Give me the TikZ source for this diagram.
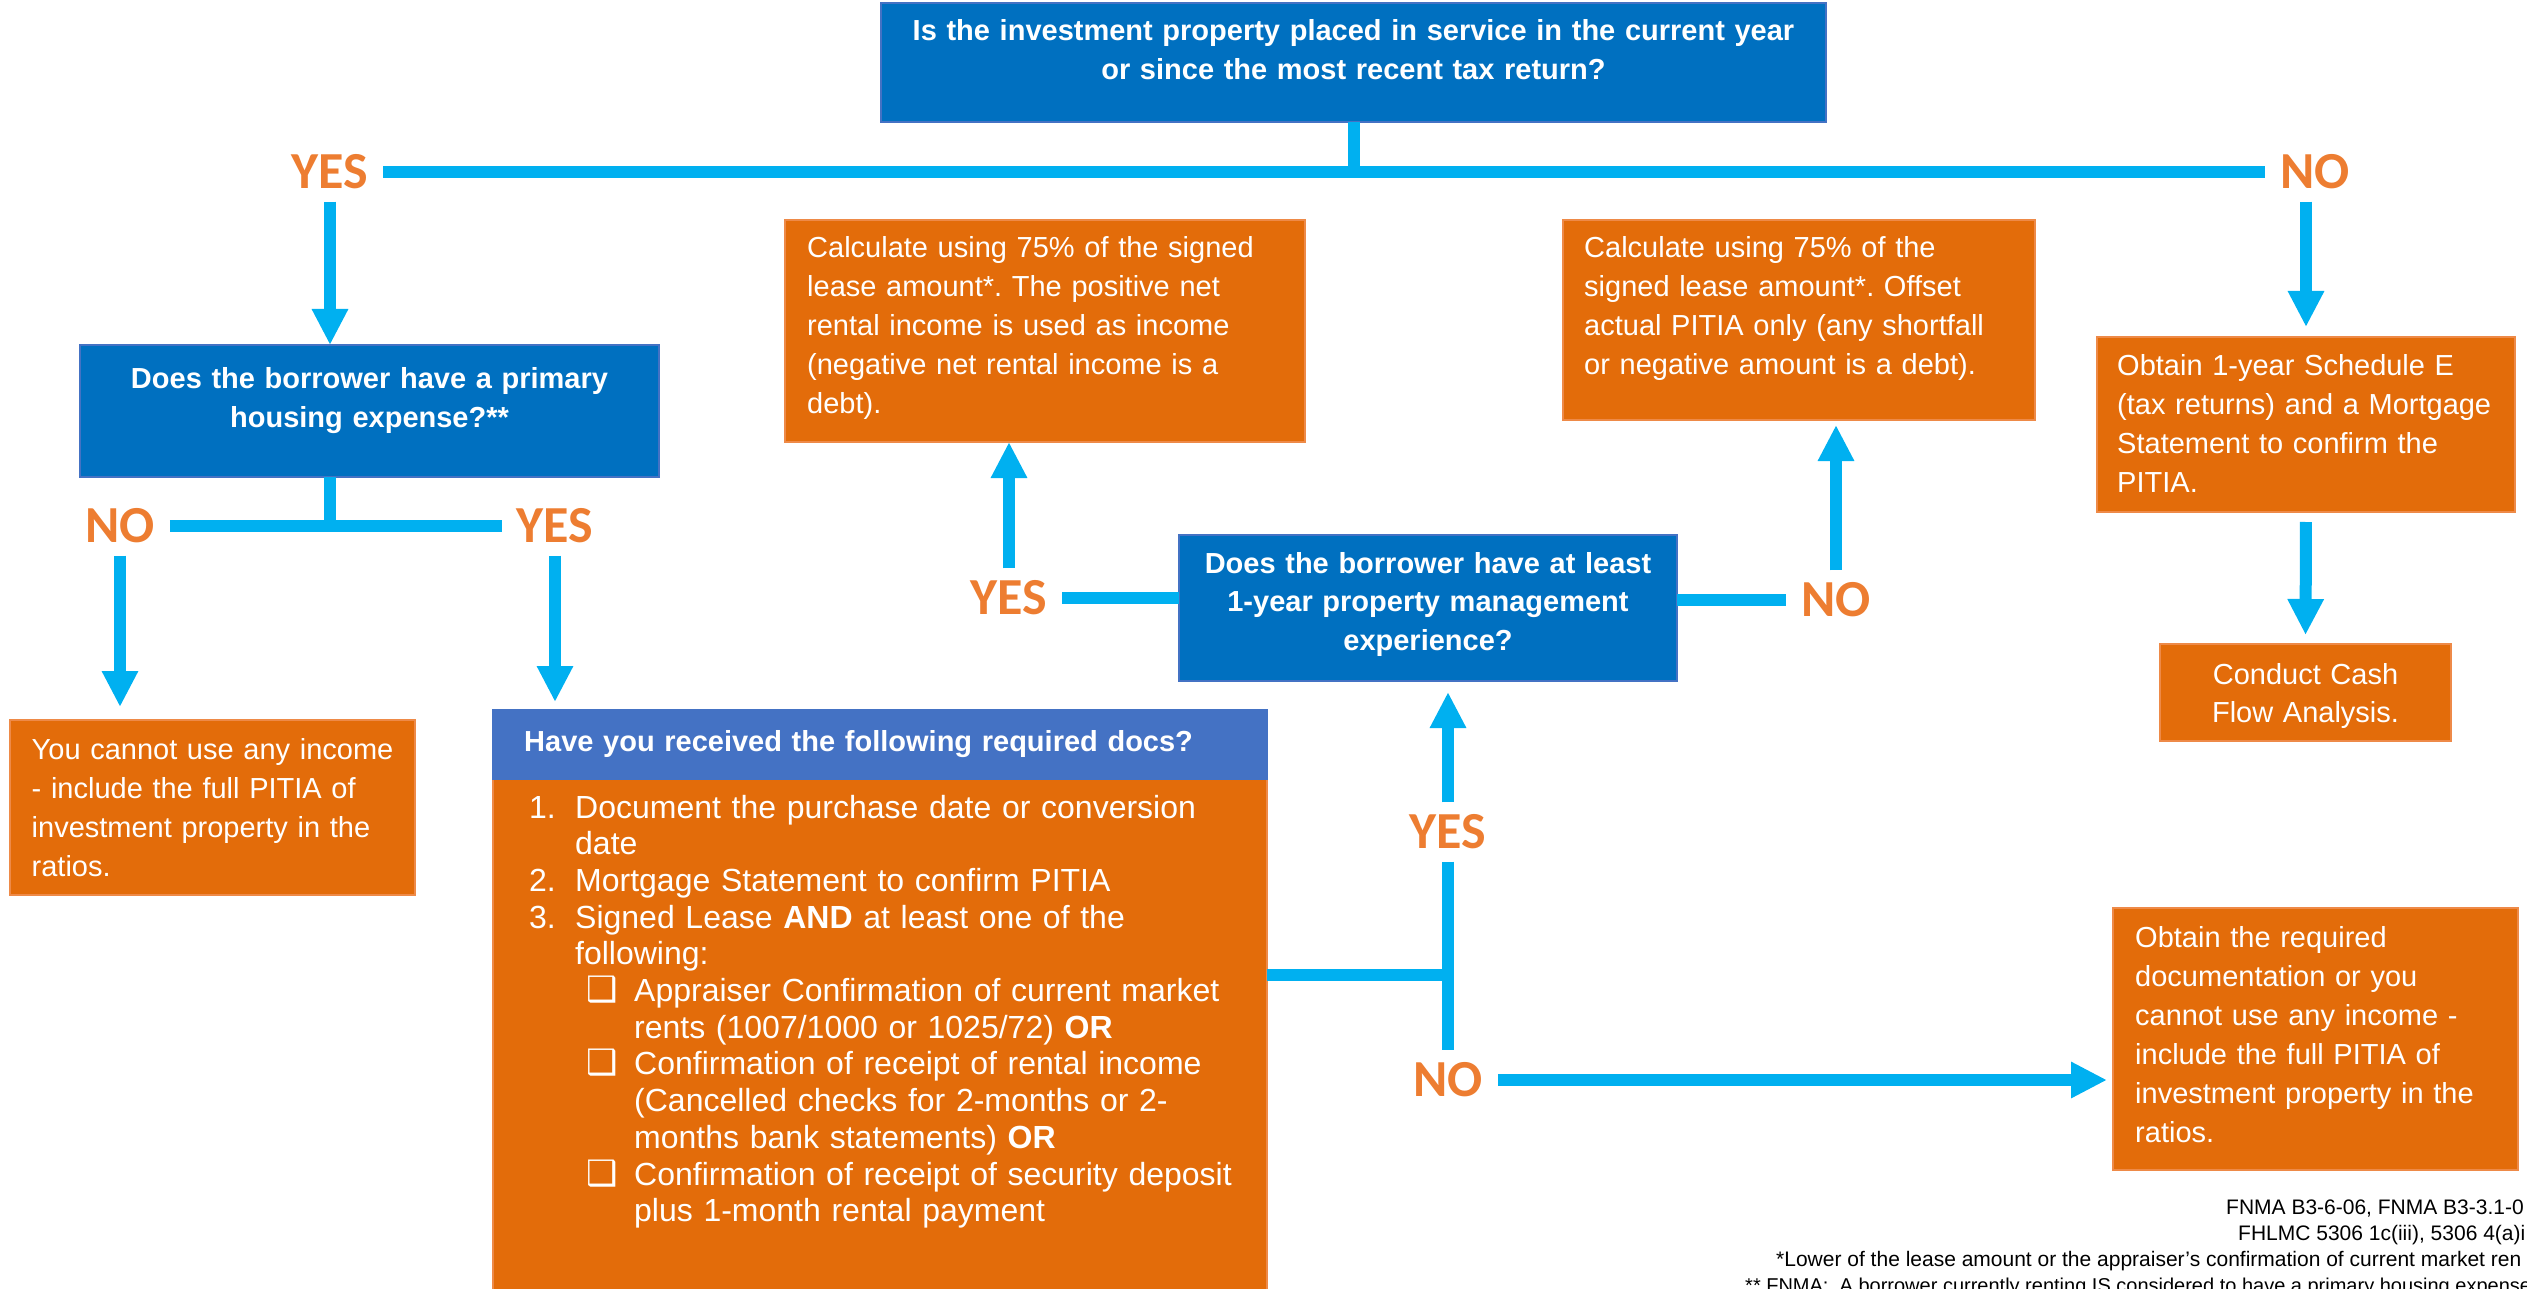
\documentclass[tikz,border=0pt]{standalone}
\usepackage{fontspec}
\setmainfont{Liberation Sans}
\newfontfamily\lblfamily{Carlito}
\newfontfamily\symfamily{DejaVu Sans}
\usetikzlibrary{arrows.meta,calc}
\definecolor{qblue}{HTML}{0070C0}
\definecolor{qborder}{HTML}{4472C4}
\definecolor{hdrblue}{HTML}{4472C4}
\definecolor{obox}{HTML}{E36C0A}
\definecolor{oborder}{HTML}{EE8A48}
\definecolor{connc}{HTML}{00B0F0}
\definecolor{lblorange}{HTML}{ED7D31}
\newcommand{\chkbox}{{\symfamily\fontsize{35}{35}\selectfont ❑}}
\frenchspacing
\begin{document}
\begin{tikzpicture}[x=1pt,y=-1pt,
  bluebox/.style={fill=qblue, draw=qborder, line width=1.5pt, inner sep=0pt, outer sep=0pt, anchor=north west},
  hdrbox/.style={fill=hdrblue, draw=hdrblue, line width=1.5pt, inner sep=0pt, outer sep=0pt, anchor=north west},
  orangebox/.style={fill=obox, draw=oborder, line width=1.5pt, inner sep=0pt, outer sep=0pt, anchor=north west},
  lbl/.style={font=\lblfamily\bfseries\fontsize{52}{52}\selectfont, text=lblorange, inner xsep=15pt, inner ysep=13pt, text height=33pt, text depth=0pt},
  conn/.style={draw=connc, line width=12pt},
  arr/.style={conn, -{Triangle[width=34pt,length=36pt]}},
  btxt/.style={font=\bfseries\fontsize{29}{39}\selectfont, text=white, align=center, anchor=base, inner sep=0pt},
  otxt/.style={font=\fontsize{29}{39}\selectfont, text=white, align=left, anchor=base west, inner sep=0pt},
  ctxt/.style={font=\fontsize{29}{38}\selectfont, text=white, align=center, anchor=base, inner sep=0pt},
  fn/.style={font=\fontsize{21}{21}\selectfont, text=black, anchor=base west, inner sep=0pt}
]
\useasboundingbox (0,0) rectangle (2527,1289);
\clip (0,0) rectangle (2527,1289);

% boxes
\node[bluebox, minimum width=945pt, minimum height=119pt] (q1) at (881,3) {};
\node[bluebox, minimum width=579pt, minimum height=132pt] (pbox) at (80,345) {};
\node[bluebox, minimum width=498pt, minimum height=146pt] (pm) at (1179,535) {};
\node[orangebox, minimum width=520pt, minimum height=222pt] (calc1) at (785,220) {};
\node[orangebox, minimum width=472pt, minimum height=200pt] (calc2) at (1563,220) {};
\node[orangebox, minimum width=418pt, minimum height=175pt] (sched) at (2097,337) {};
\node[orangebox, minimum width=291pt, minimum height=97pt] (conduct) at (2160,644) {};
\node[orangebox, minimum width=405pt, minimum height=175pt] (cannot) at (10,720) {};
\node[orangebox, minimum width=405pt, minimum height=262pt] (req) at (2113,908) {};
\node[orangebox, minimum width=774pt, minimum height=531pt] (docsbody) at (493,779) {};
\node[hdrbox, minimum width=774pt, minimum height=69pt] (docshead) at (493,710) {};

% texts
\node[btxt, text width=940pt] (q1t) at (1353.5,41) {Is the investment property placed in service in the current year\\or since the most recent tax return?};
\node[btxt, text width=570pt] (pboxt) at (369.5,388) {Does the borrower have a primary\\housing expense?**};
\node[btxt, text width=490pt, font=\bfseries\fontsize{29}{38.5}\selectfont] (pmt) at (1428,573) {Does the borrower have at least\\1-year property management\\experience?};
\node[otxt, text width=500pt] (calc1t) at (807,258) {Calculate using 75\% of the signed\\lease amount*. The positive net\\rental income is used as income\\(negative net rental income is a\\debt).};
\node[otxt, text width=460pt] (calc2t) at (1584,258) {Calculate using 75\% of the\\signed lease amount*. Offset\\actual PITIA only (any shortfall\\or negative amount is a debt).};
\node[otxt, text width=400pt] (schedt) at (2117,375) {Obtain 1-year Schedule E\\(tax returns) and a Mortgage\\Statement to confirm the\\PITIA.};
\node[ctxt, text width=290pt] (conductt) at (2305.5,684) {Conduct Cash\\Flow Analysis.};
\node[otxt, text width=400pt] (cannott) at (31.5,759) {You cannot use any income\\- include the full PITIA of\\investment property in the\\ratios.};
\node[otxt, text width=400pt] (reqt) at (2135,947) {Obtain the required\\documentation or you\\cannot use any income -\\include the full PITIA of\\investment property in the\\ratios.};
\node[otxt, text width=760pt, font=\bfseries\fontsize{29}{39}\selectfont] (docsheadt) at (524,751) {Have you received the following required docs?};
\node[otxt, text width=800pt, font=\fontsize{32}{36.7}\selectfont] (docslist) at (529,818) {%
\makebox[46pt][l]{1.}Document the purchase date or conversion\\
\hspace*{46pt}date\\
\makebox[46pt][l]{2.}Mortgage Statement to confirm PITIA\\
\makebox[46pt][l]{3.}Signed Lease \textbf{AND} at least one of the\\
\hspace*{46pt}following:\\
\hspace*{57pt}\makebox[48pt][l]{\chkbox}Appraiser Confirmation of current market\\
\hspace*{105pt}rents (1007/1000 or 1025/72) \textbf{OR}\\
\hspace*{57pt}\makebox[48pt][l]{\chkbox}Confirmation of receipt of rental income\\
\hspace*{105pt}(Cancelled checks for 2-months or 2-\\
\hspace*{105pt}months bank statements) \textbf{OR}\\
\hspace*{57pt}\makebox[48pt][l]{\chkbox}Confirmation of receipt of security deposit\\
\hspace*{105pt}plus 1-month rental payment};

% labels
\node[lbl] (yes1) at (330,172) {YES};
\node[lbl] (no1) at (2315,172) {NO};
\node[lbl] (no2) at (120,526) {NO};
\node[lbl] (yes2) at (555,526) {YES};
\node[lbl] (yes3) at (1448,832) {YES};
\node[lbl] (no3) at (1448,1080) {NO};
\node[lbl] (yes4) at (1009,598) {YES};
\node[lbl] (no4) at (1836,600) {NO};

% connectors
\draw[conn] (q1.south) -- (q1.south |- yes1);
\draw[conn] (yes1.east) -- (no1.west);
\draw[arr] (yes1.south) -- (yes1.south |- pbox.north);
\draw[arr, shorten >=10pt] (sched.north |- no1.south) -- (sched.north);
\draw[arr, shorten <=10pt, shorten >=9pt] (sched.south) -- (conduct.north);

\coordinate (j2) at (330,526);
\draw[conn] (j2 |- pbox.south) -- (j2);
\draw[conn] (no2.east) -- (yes2.west);
\draw[arr, shorten >=13pt] (no2.south) -- (no2.south |- cannot.north);
\draw[arr, shorten >=8pt] (yes2.south) -- (yes2.south |- docshead.north);

\coordinate (j3) at (1448,975);
\draw[conn] (j3 -| docsbody.east) -- (j3);
\draw[conn] (yes3.south) -- (no3.north);
\draw[arr, shorten >=11pt] (yes3.north) -- (yes3.north |- pm.south);
\draw[arr, shorten >=6pt] (no3.east) -- (no3.east -| req.west);

\draw[conn] (pm.west |- yes4) -- (yes4.east);
\draw[arr] (yes4.north) -- (yes4.north |- calc1.south);
\draw[conn] (pm.east |- no4) -- (no4.west);
\draw[arr, shorten >=5pt] (no4.north) -- (no4.north |- calc2.south);

% footnotes
\node[fn] (fn1) at (2226,1214) {FNMA B3-6-06, FNMA B3-3.1-0};
\node[fn] (fn2) at (2238,1240) {FHLMC 5306 1c(iii), 5306 4(a)i};
\node[fn] (fn3) at (1776,1266) {*Lower of the lease amount or the appraiser’s confirmation of current market ren};
\node[fn, font=\fontsize{20}{20}\selectfont] (fn4) at (1745,1292) {** FNMA:\ \ A borrower currently renting IS considered to have a primary housing expense};
\end{tikzpicture}
\end{document}
